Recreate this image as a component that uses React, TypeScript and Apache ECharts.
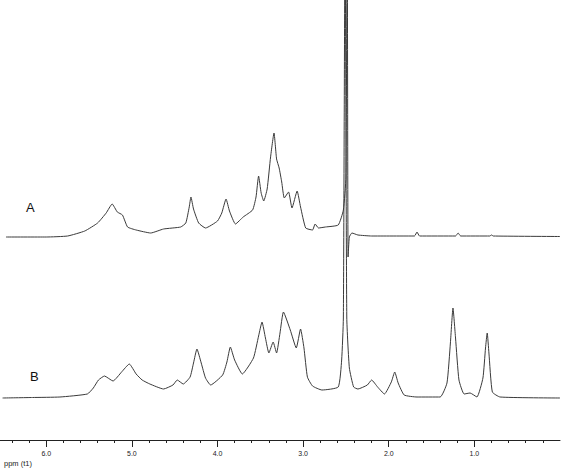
import React, { useEffect, useRef } from "react";
import * as echarts from "echarts";

// chemical shift (ppm) and intensity pairs
const traceA: [number, number][] = [
  [6.47, 0], [6.0, 0], [5.75, 1], [5.55, 6], [5.4, 14], [5.3, 24], [5.23, 33],
  [5.17, 25], [5.11, 22], [5.05, 10], [4.95, 7], [4.78, 4], [4.63, 8], [4.43, 10],
  [4.37, 14], [4.33, 30], [4.31, 40], [4.28, 28], [4.22, 14], [4.14, 9], [4.0, 16],
  [3.95, 24], [3.9, 38], [3.86, 26], [3.79, 13], [3.7, 20], [3.59, 27], [3.55, 40],
  [3.52, 61], [3.49, 44], [3.46, 36], [3.42, 48], [3.38, 80], [3.34, 104], [3.31, 78],
  [3.28, 69], [3.25, 55], [3.22, 39], [3.17, 45], [3.13, 29], [3.07, 46], [3.03, 30],
  [2.97, 9], [2.89, 7], [2.86, 13], [2.82, 9], [2.74, 10], [2.59, 12], [2.53, 27],
  [2.5, 60], [2.485, 330], [2.475, -20], [2.46, 0], [2.43, 4], [2.36, 2], [2.2, 1],
  [1.7, 1], [1.67, 5], [1.64, 1], [1.22, 1], [1.19, 4], [1.16, 1], [0.82, 1],
  [0.8, 2], [0.78, 1], [0.0, 0.5],
];

const traceB: [number, number][] = [
  [6.51, 0], [6.16, 0.5], [5.84, 1], [5.52, 4], [5.45, 10], [5.39, 18], [5.32, 22],
  [5.22, 17], [5.12, 26], [5.03, 34], [4.95, 24], [4.88, 18], [4.79, 14], [4.63, 9],
  [4.52, 13], [4.47, 18], [4.4, 14], [4.32, 21], [4.28, 35], [4.24, 49], [4.19, 35],
  [4.14, 20], [4.08, 13], [3.94, 23], [3.89, 36], [3.85, 51], [3.8, 38], [3.71, 24],
  [3.58, 40], [3.52, 62], [3.48, 76], [3.44, 60], [3.4, 45], [3.35, 56], [3.31, 45],
  [3.27, 65], [3.23, 86], [3.15, 68], [3.08, 50], [3.03, 69], [2.99, 50], [2.95, 21],
  [2.89, 12], [2.78, 8], [2.59, 11], [2.55, 38], [2.53, 80], [2.51, 480], [2.49, 80],
  [2.46, 30], [2.41, 11], [2.36, 9], [2.25, 13], [2.2, 18], [2.13, 11], [2.05, 4],
  [1.97, 16], [1.93, 26], [1.89, 15], [1.82, 3], [1.67, 1], [1.4, 1], [1.32, 15],
  [1.28, 55], [1.25, 90], [1.22, 60], [1.18, 18], [1.12, 4], [1.05, 5], [0.97, 1],
  [0.9, 20], [0.87, 50], [0.85, 65], [0.83, 45], [0.79, 6], [0.7, 1], [0.0, 0],
];

const majorTicks = [1, 2, 3, 4, 5, 6];
const minorTicks = [
  0.2, 0.4, 0.6, 0.8, 1.2, 1.4, 1.6, 1.8, 2.2, 2.4, 2.6, 2.8, 3.2, 3.4, 3.6, 3.8,
  4.2, 4.4, 4.6, 4.8, 5.2, 5.4, 5.6, 5.8, 6.2, 6.4,
];
const axisTitle = "ppm (t1)";
const traceNames = ["A", "B"];

export default function App() {
  const ref = useRef<HTMLDivElement>(null);
  useEffect(() => {
    if (!ref.current) return;
    const chart = echarts.init(ref.current, undefined, { renderer: "svg" });
    const lineColor = "#3a3a3a";
    const font = "Liberation Sans, Arial, sans-serif";
    chart.setOption({
      animation: false,
      backgroundColor: "#ffffff",
      grid: { left: 0, right: 7, top: 0, bottom: 29, containLabel: false },
      xAxis: [
        {
          type: "value",
          min: 0,
          max: 6.54,
          inverse: true,
          position: "bottom",
          splitLine: { show: false },
          axisLine: { show: true, onZero: false, lineStyle: { color: "#222", width: 1 } },
          axisTick: { show: true, customValues: majorTicks, length: 7, lineStyle: { color: "#222", width: 1 } },
          axisLabel: {
            show: true,
            customValues: majorTicks,
            formatter: (v: number) => v.toFixed(1),
            fontSize: 7,
            fontFamily: font,
            color: "#222",
            margin: 10,
          },
        },
        {
          type: "value",
          min: 0,
          max: 6.54,
          inverse: true,
          position: "bottom",
          splitLine: { show: false },
          axisLine: { show: false, onZero: false },
          axisTick: { show: true, customValues: minorTicks, length: 3, lineStyle: { color: "#222", width: 1 } },
          axisLabel: { show: false },
        },
      ],
      yAxis: [
        { type: "value", min: -203, max: 237, show: false, splitLine: { show: false } },
        { type: "value", min: -42, max: 398, show: false, splitLine: { show: false } },
      ],
      series: [
        {
          name: traceNames[0],
          type: "line",
          xAxisIndex: 0,
          yAxisIndex: 0,
          data: traceA,
          showSymbol: false,
          symbol: "none",
          smooth: 0.15,
          lineStyle: { color: lineColor, width: 1 },
          clip: true,
        },
        {
          name: traceNames[1],
          type: "line",
          xAxisIndex: 0,
          yAxisIndex: 1,
          data: traceB,
          showSymbol: false,
          symbol: "none",
          smooth: 0.15,
          lineStyle: { color: lineColor, width: 1 },
          clip: true,
        },
      ],
      graphic: [
        {
          type: "text",
          left: 26,
          top: 201,
          style: { text: traceNames[0], fontSize: 13, fontFamily: font, fill: "#111" },
        },
        {
          type: "text",
          left: 30,
          top: 370,
          style: { text: traceNames[1], fontSize: 13, fontFamily: font, fill: "#111" },
        },
        {
          type: "text",
          left: 4,
          top: 459,
          style: { text: axisTitle, fontSize: 7.5, fontFamily: font, fill: "#222" },
        },
      ],
    });
    return () => chart.dispose();
  }, []);
  return (
    <div
      ref={ref}
      style={{ position: "fixed", left: 0, top: 0, width: 567, height: 469, background: "#fff" }}
    />
  );
}
